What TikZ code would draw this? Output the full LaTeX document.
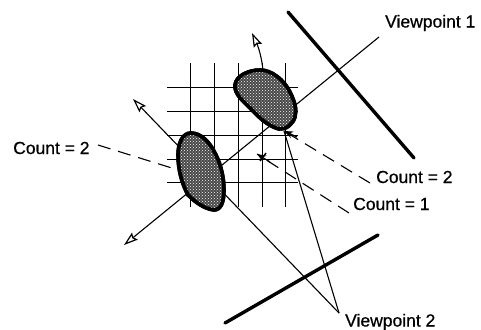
\documentclass[tikz,border=0pt]{standalone}
\usepackage{fontspec}
\setmainfont{Liberation Sans}
\newfontfamily\labfont[FakeBold=0.6]{Liberation Sans}
\usetikzlibrary{arrows.meta,patterns}
\tikzset{
  gridline/.style={black,line width=0.9pt},
  ray/.style={black,line width=1.1pt},
  openarrow/.style={-{Stealth[length=14pt,width=9pt,inset=2pt,fill=white,line width=1.2pt]}},
  leader/.style={black,line width=1.1pt,dash pattern=on 13pt off 8pt},
  screen/.style={black,line width=3.4pt,line cap=round},
  blob/.style={draw=black,line width=3.6pt,fill=black!72},
  blobdots/.style={pattern=crosshatch dots,pattern color=white},
  lab/.style={font=\labfont\fontsize{17.5}{19}\selectfont,inner sep=0pt,anchor=west,text=black}
}
\begin{document}
\begin{tikzpicture}[x=1pt,y=-1pt]
\useasboundingbox (0,0) rectangle (481,329);
% coordinates
\coordinate (vp1) at (379,37);
\coordinate (vp2) at (339,313);
\coordinate (a1) at (124,245);
\coordinate (a2) at (133,99);
\coordinate (a3) at (252,33);
\coordinate (b1) at (263,71);
\coordinate (c1) at (284,131);
\coordinate (c2) at (257,154);
\coordinate (c3) at (175,169);
\coordinate (d1) at (370,183);
\coordinate (d2) at (349,213);
\coordinate (d3) at (98,145);
\coordinate (s1a) at (288,12);
\coordinate (s1b) at (414,158);
\coordinate (s2a) at (225,323);
\coordinate (s2b) at (378,235);
% labels
\node[lab] (v1) at (385,23) {Viewpoint 1};
\node[lab] (v2) at (345,322) {Viewpoint 2};
\node[lab] (cr2) at (376,177) {Count = 2};
\node[lab] (cr1) at (353,204) {Count = 1};
\node[lab] (cl2) at (13,148) {Count = 2};
% grid
\foreach \x in {190,214,238,262,285}
  \draw[gridline] (\x,63) -- (\x,207);
\foreach \y in {87,111,135,159,182}
  \draw[gridline] (167,\y) -- (298,\y);
% screens
\draw[screen] (s1a) -- (s1b);
\draw[screen] (s2a) -- (s2b);
% rays
\draw[ray,openarrow] (vp1) -- (a1);
\draw[ray,openarrow] (vp2) -- (a2);
\draw[ray] (vp2) -- (c1);
% leaders
\draw[leader] (d1) -- (c1);
\draw[leader] (d2) -- (c2);
\draw[leader] (d3) -- (c3);
% small arrows
\draw[black,line width=1.2pt,-{Stealth[length=9pt,width=7pt]}] (270,162) -- (c2);
\draw[black,line width=1.4pt] (266,153) -- (260,161);
\draw[black,line width=1.2pt,-{Stealth[length=9pt,width=7pt]}] (297,137) -- (c1);
% blobs
\def\blobA{(260,70) .. controls (272,70) and (284,80) .. (290,92) .. controls (295,102) and (297,110) .. (295,117) .. controls (293,124) and (286,130) .. (279,129) .. controls (271,127) and (262,121) .. (252,110) .. controls (243,101) and (234,94) .. (235,85) .. controls (236,76) and (248,70) .. (260,70) -- cycle}
\def\blobB{(191,133) .. controls (201,133) and (210,142) .. (216,155) .. controls (221,165) and (224,178) .. (224,190) .. controls (224,202) and (221,210) .. (214,210) .. controls (205,209) and (196,203) .. (188,195) .. controls (182,184) and (178,170) .. (178,155) .. controls (178,144) and (182,133) .. (191,133) -- cycle}
\fill[blob] \blobA;
\fill[blobdots] \blobA;
\draw[blob,fill=none] \blobA;
\fill[blob] \blobB;
\fill[blobdots] \blobB;
\draw[blob,fill=none] \blobB;
% ray from blob A to upper arrow
\draw[ray,openarrow] (b1) .. controls (262,58) and (258,46) .. (a3);
\end{tikzpicture}
\end{document}
